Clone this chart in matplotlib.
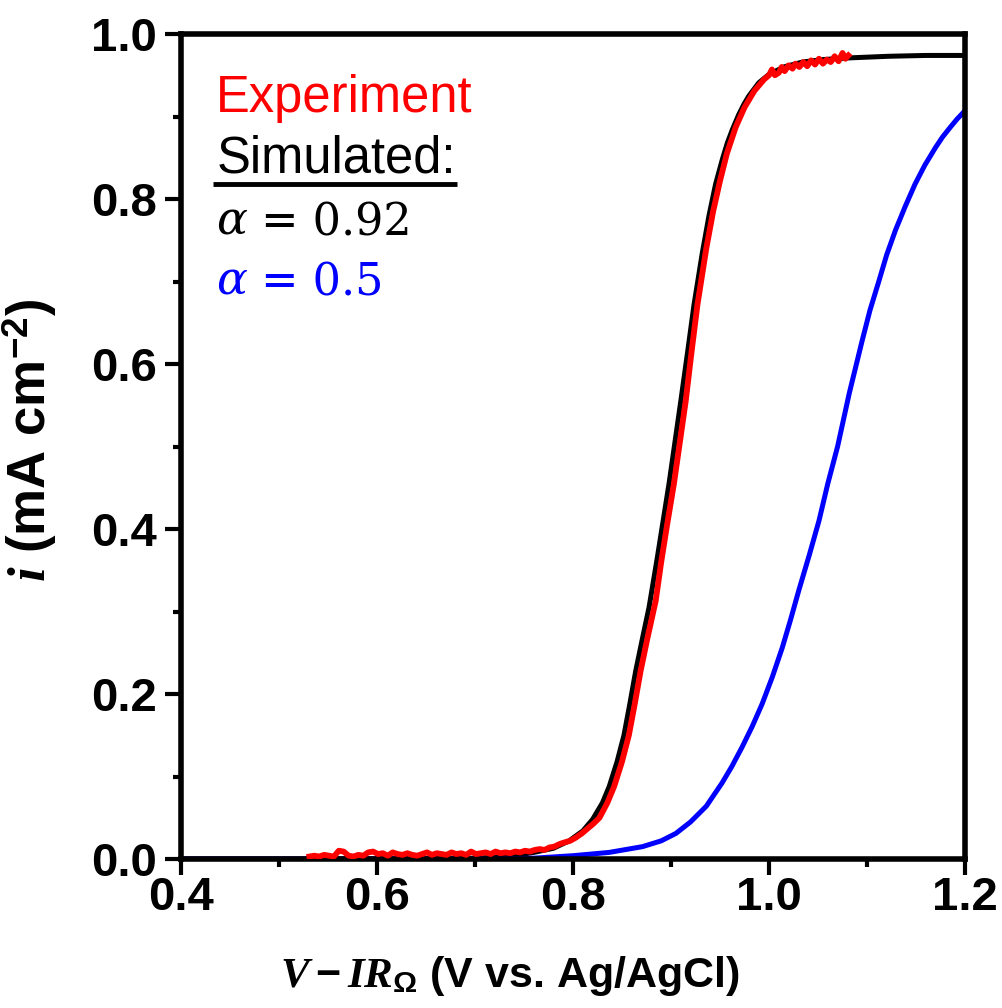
import numpy as np
import matplotlib
matplotlib.use("Agg")
import matplotlib.pyplot as plt

# mixed fonts: serif bold italic for symbols, bold sans for the rest
plt.rcParams['font.family'] = ['Liberation Sans', 'DejaVu Sans']
plt.rcParams['mathtext.fontset'] = 'custom'
plt.rcParams['mathtext.it'] = 'Liberation Serif:italic:bold'
plt.rcParams['mathtext.rm'] = 'Liberation Sans:bold'
plt.rcParams['mathtext.bf'] = 'Liberation Sans:bold'
plt.rcParams['mathtext.sf'] = 'Liberation Sans:bold'

# simulated, alpha = 0.92
sim092_v = [0.40, 0.50, 0.60, 0.65, 0.70, 0.72, 0.74, 0.76, 0.78, 0.796,
            0.81, 0.82, 0.83, 0.837, 0.845, 0.852, 0.858, 0.864, 0.871,
            0.8776, 0.886, 0.892, 0.898, 0.904, 0.910, 0.917, 0.9235, 0.932,
            0.9388, 0.9455, 0.9524, 0.9575, 0.9626, 0.969, 0.9745, 0.9795,
            0.9897, 1.0, 1.015, 1.034, 1.055, 1.081, 1.122, 1.16, 1.2]
sim092_i = [0.0, 0.0, 0.0002, 0.0005, 0.001, 0.002, 0.004, 0.008, 0.013, 0.022,
            0.034, 0.048, 0.068, 0.088, 0.118, 0.150, 0.188, 0.228, 0.268,
            0.305, 0.365, 0.41, 0.455, 0.505, 0.555, 0.615, 0.672, 0.735,
            0.78, 0.818, 0.848, 0.868, 0.884, 0.902, 0.915, 0.925,
            0.941, 0.951, 0.960, 0.966, 0.969, 0.971, 0.973, 0.974, 0.974]

# simulated, alpha = 0.5
sim05_v = [0.40, 0.60, 0.72, 0.76, 0.80, 0.837, 0.871, 0.890, 0.905, 0.920,
           0.936, 0.952, 0.962, 0.9727, 0.983, 0.993, 1.0035, 1.0135, 1.022,
           1.0305, 1.041, 1.051, 1.06, 1.07, 1.082, 1.095, 1.103, 1.112,
           1.12, 1.129, 1.139, 1.149, 1.159, 1.1697, 1.177, 1.185, 1.192, 1.2]
sim05_i = [0.0, 0.0, 0.0, 0.001, 0.004, 0.008, 0.015, 0.022, 0.031, 0.045,
           0.064, 0.092, 0.112, 0.136, 0.161, 0.188, 0.221, 0.256, 0.290,
           0.326, 0.368, 0.41, 0.455, 0.50, 0.565, 0.628, 0.665, 0.70,
           0.732, 0.762, 0.791, 0.818, 0.841, 0.862, 0.875, 0.887, 0.897, 0.907]

# experiment
exp_v = [0.531, 0.536, 0.541, 0.546, 0.551, 0.556, 0.561, 0.566, 0.571, 0.576,
         0.581, 0.586, 0.591, 0.596, 0.601, 0.606, 0.611, 0.616, 0.621, 0.626,
         0.631, 0.636, 0.641, 0.646, 0.651, 0.656, 0.661, 0.666, 0.671, 0.676,
         0.681, 0.686, 0.691, 0.696, 0.701, 0.706, 0.711, 0.716, 0.721, 0.726,
         0.731, 0.736, 0.741, 0.746, 0.751, 0.756, 0.761, 0.766, 0.771, 0.776,
         0.781, 0.786, 0.791, 0.797, 0.803, 0.809, 0.815, 0.821, 0.827, 0.835,
         0.842, 0.850, 0.857, 0.863, 0.869, 0.876, 0.8844, 0.890, 0.896, 0.903,
         0.909, 0.915, 0.921, 0.927, 0.936, 0.943, 0.950, 0.957, 0.966, 0.975,
         0.985, 0.995, 1.000, 1.003, 1.006, 1.010, 1.013, 1.016, 1.020, 1.024,
         1.027, 1.031, 1.035, 1.039, 1.043, 1.047, 1.051, 1.055, 1.059, 1.063,
         1.067, 1.071, 1.075, 1.078, 1.081]
exp_i = [0.003, 0.004, 0.003, 0.005, 0.004, 0.003, 0.010, 0.009, 0.004, 0.003,
         0.005, 0.004, 0.008, 0.009, 0.006, 0.007, 0.004, 0.008, 0.006, 0.005,
         0.007, 0.005, 0.004, 0.006, 0.008, 0.005, 0.007, 0.006, 0.005, 0.008,
         0.006, 0.007, 0.005, 0.009, 0.006, 0.007, 0.008, 0.006, 0.009, 0.007,
         0.008, 0.007, 0.009, 0.008, 0.010, 0.009, 0.011, 0.012, 0.011, 0.014,
         0.015, 0.018, 0.020, 0.022, 0.026, 0.031, 0.037, 0.043, 0.050, 0.068,
         0.088, 0.118, 0.150, 0.188, 0.228, 0.268, 0.313, 0.36, 0.405, 0.455,
         0.505, 0.555, 0.615, 0.672, 0.740, 0.785, 0.822, 0.855, 0.887, 0.911,
         0.931, 0.945, 0.950, 0.957, 0.950, 0.953, 0.960, 0.955, 0.962, 0.958,
         0.964, 0.960, 0.966, 0.961, 0.968, 0.963, 0.970, 0.964, 0.969, 0.966,
         0.973, 0.967, 0.977, 0.970, 0.974]

fig = plt.figure(figsize=(10.02, 10.08), dpi=100)
ax = fig.add_axes([181 / 1002, 1 - 859 / 1008, 784 / 1002, 825 / 1008])

ax.plot(sim092_v, sim092_i, color='black', lw=3.6, zorder=2)
ax.plot(sim05_v, sim05_i, color='#0000ff', lw=3.6, zorder=2)
ax.plot(exp_v, exp_i, color='#ff0000', lw=4.2, zorder=3)

ax.set_xlim(0.4, 1.2)
ax.set_ylim(0, 1.0)
ax.set_xticks([0.4, 0.6, 0.8, 1.0, 1.2])
ax.set_xticks([0.5, 0.7, 0.9, 1.1], minor=True)
ax.set_yticks([0.0, 0.2, 0.4, 0.6, 0.8, 1.0])
ax.set_yticks([0.1, 0.3, 0.5, 0.7, 0.9], minor=True)
ax.xaxis.set_major_formatter(matplotlib.ticker.FormatStrFormatter('%.1f'))
ax.yaxis.set_major_formatter(matplotlib.ticker.FormatStrFormatter('%.1f'))

for s in ax.spines.values():
    s.set_linewidth(4)
ax.tick_params(which='major', direction='out', length=11.5, width=3,
               labelsize=34, pad=1)
ax.tick_params(which='minor', direction='out', length=6, width=3)
ax.tick_params(axis='y', which='major', pad=6)
for lab in ax.get_xticklabels() + ax.get_yticklabels():
    lab.set_fontweight('bold')

ax.set_xlabel(r'$V - IR_{\Omega}$ (V vs. Ag/AgCl)', fontsize=31,
              fontweight='bold')
ax.xaxis.set_label_coords(0.42, -0.115)
ax.set_ylabel(r'$i$ (mA cm$^{-2}$)', fontsize=38, fontweight='bold')
ax.yaxis.set_label_coords(-0.155, 0.507)

# legend written as text
ax.text(0.045, 0.906, 'Experiment', color='#ff0000', fontsize=36.5,
        transform=ax.transAxes, va='baseline')
ax.text(0.045, 0.832, 'Simulated:', color='black', fontsize=36.5,
        transform=ax.transAxes, va='baseline')
ax.plot([0.041, 0.352], [0.8178, 0.8178], color='black', lw=3.5,
        transform=ax.transAxes, solid_capstyle='butt')
for txt, yy, c in [('0.92', 0.757, 'black'), ('0.5', 0.6845, '#0000ff')]:
    a = ax.text(0.045, yy, 'α', color=c, fontsize=33, family='DejaVu Serif',
                style='italic', transform=ax.transAxes, va='baseline')
    ax.annotate(' = ' + txt, xy=(1, 0), xycoords=a, color=c, fontsize=32,
                family='DejaVu Serif', va='bottom')

fig.savefig('out.png', dpi=100)
